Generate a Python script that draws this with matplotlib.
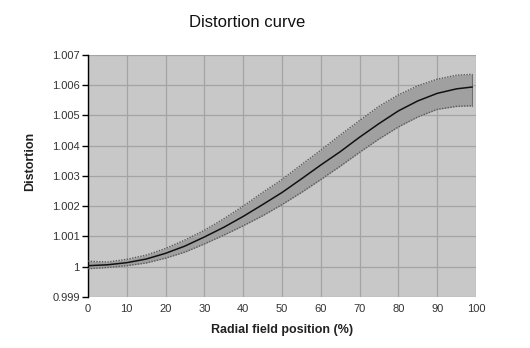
import numpy as np
import matplotlib.pyplot as plt

plt.rcParams['font.family'] = ['Liberation Sans', 'DejaVu Sans']

# Radial field position (%) and distortion with its tolerance band
position = [0, 5, 10, 15, 20, 25, 30, 35, 40, 45, 50,
            55, 60, 65, 70, 75, 80, 85, 90, 95, 99]
distortion = [1.00003, 1.00006, 1.00013, 1.00025, 1.00044, 1.00068, 1.00098,
              1.00130, 1.00166, 1.00205, 1.00245, 1.00290, 1.00336, 1.00380,
              1.00428, 1.00473, 1.00515, 1.00548, 1.00573, 1.00588, 1.00594]
upper = [1.00018, 1.00015, 1.00024, 1.00038, 1.00060, 1.00088, 1.00120,
         1.00158, 1.00200, 1.00245, 1.00288, 1.00337, 1.00385, 1.00435,
         1.00483, 1.00530, 1.00568, 1.00598, 1.00620, 1.00633, 1.00636]
lower = [0.99993, 0.99997, 1.00003, 1.00012, 1.00028, 1.00048, 1.00075,
         1.00104, 1.00135, 1.00168, 1.00205, 1.00245, 1.00288, 1.00332,
         1.00378, 1.00422, 1.00462, 1.00495, 1.00520, 1.00530, 1.00532]

x_ticks = [0, 10, 20, 30, 40, 50, 60, 70, 80, 90, 100]
y_ticks = [0.999, 1.0, 1.001, 1.002, 1.003, 1.004, 1.005, 1.006, 1.007]
y_labels = ['0.999', '1', '1.001', '1.002', '1.003', '1.004', '1.005', '1.006', '1.007']

fig = plt.figure(figsize=(5.3, 3.48), dpi=100)
ax = fig.add_axes([0.166, 0.147, 0.732, 0.695])
ax.set_facecolor('#c8c8c8')

# tolerance band with dotted dark edges
ax.fill_between(position, lower, upper, color='#a0a0a0', lw=0, zorder=2)
ax.plot(position, upper, color='#5a5a5a', lw=1, ls=(0, (1, 1)), zorder=3)
ax.plot(position, lower, color='#5a5a5a', lw=1, ls=(0, (1, 1)), zorder=3)
ax.plot([position[-1], position[-1]], [lower[-1], upper[-1]],
        color='#707070', lw=0.8, zorder=3)
ax.plot(position, distortion, color='#111111', lw=1.1, zorder=4)

ax.set_xlim(0, 100)
ax.set_ylim(0.999, 1.007)
ax.set_xticks(x_ticks)
ax.set_yticks(y_ticks)
ax.set_yticklabels(y_labels)
ax.grid(True, color='#a4a4a4', lw=0.9, zorder=1)
ax.set_axisbelow(True)

for side in ['top', 'right', 'bottom']:
    ax.spines[side].set_visible(False)
ax.spines['left'].set_color('black')
ax.spines['left'].set_linewidth(1)
ax.tick_params(axis='y', direction='out', length=4, width=1, colors='black',
               labelcolor='#333333', labelsize=8, pad=2)
ax.tick_params(axis='x', length=0, labelcolor='#333333', labelsize=8, pad=5)

ax.set_xlabel('Radial field position (%)', fontsize=9, fontweight='bold',
              color='#222222', labelpad=7)
fig.text(0.057, 0.537, 'Distortion', rotation=90, ha='center', va='center',
         fontsize=9, fontweight='bold', color='#222222')
fig.text(0.466, 0.935, 'Distortion curve', ha='center', va='center',
         fontsize=12, color='#111111')

fig.savefig('out.png', dpi=100, facecolor='white')
